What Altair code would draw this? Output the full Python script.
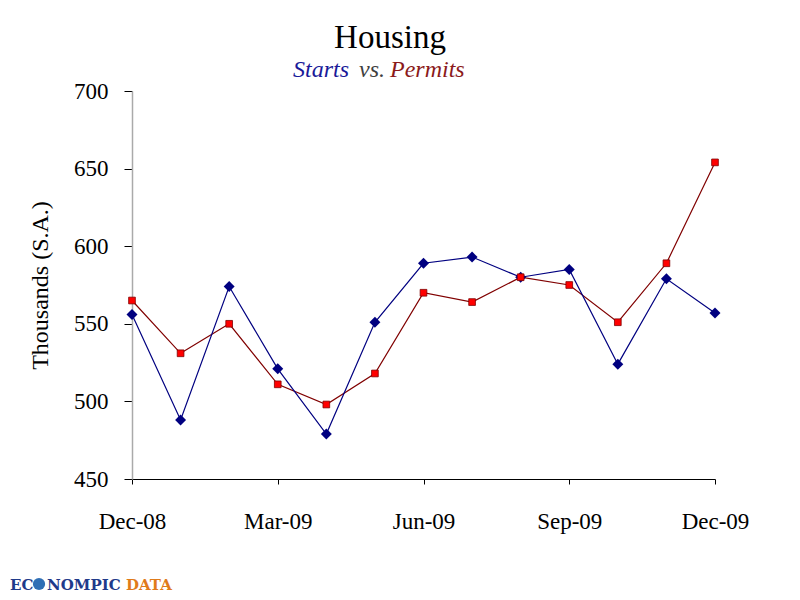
import altair as alt
import pandas as pd

months = ["Dec-08", "Jan-09", "Feb-09", "Mar-09", "Apr-09", "May-09", "Jun-09",
          "Jul-09", "Aug-09", "Sep-09", "Oct-09", "Nov-09", "Dec-09"]
starts = [556, 488, 574, 521, 479, 551, 589, 593, 580, 585, 524, 579, 557]
permits = [565, 531, 550, 511, 498, 518, 570, 564, 580, 575, 551, 589, 654]
x_ticks = ["Dec-08", "Mar-09", "Jun-09", "Sep-09", "Dec-09"]
y_ticks = [450, 500, 550, 600, 650, 700]

FONT = "Liberation Serif"

df = pd.DataFrame({"month": months, "Starts": starts, "Permits": permits})

x_enc = alt.X("month:O", sort=months,
              scale=alt.Scale(type="point", padding=0),
              axis=alt.Axis(values=x_ticks, title=None, labelAngle=0,
                            labelAlign="center", labelBaseline="top",
                            labelFont=FONT, labelFontSize=23, labelColor="black",
                            labelPadding=26, tickSize=5, tickColor="black",
                            domainColor="black", domainWidth=1, labelFlush=False))
y_scale = alt.Scale(domain=[450, 700], nice=False, zero=False)
y_axis = alt.Axis(values=y_ticks, title="Thousands (S.A.)", titleFont=FONT,
                  titleFontSize=24, titleFontWeight="normal", titleColor="black",
                  titlePadding=21, labelFont=FONT, labelFontSize=23,
                  labelColor="black", labelPadding=16, tickSize=8,
                  tickColor="black", domainColor="#aaaaaa", domainWidth=1.5,
                  grid=False)

base = alt.Chart(df)

starts_line = base.mark_line(color="#000080", strokeWidth=1.2).encode(
    x=x_enc, y=alt.Y("Starts:Q", scale=y_scale, axis=y_axis))
starts_pts = base.mark_point(shape="diamond", filled=True, color="#000080",
                             size=120, opacity=1).encode(
    x=alt.X("month:O", sort=months), y=alt.Y("Starts:Q", scale=y_scale))
permits_line = base.mark_line(color="#800000", strokeWidth=1.2).encode(
    x=alt.X("month:O", sort=months), y=alt.Y("Permits:Q", scale=y_scale))
permits_pts = base.mark_point(shape="square", filled=True, color="#ff0000",
                              stroke="#800000", strokeWidth=0.8, size=45,
                              opacity=1).encode(
    x=alt.X("month:O", sort=months), y=alt.Y("Permits:Q", scale=y_scale))

def label(text, x, y, size, color, style="normal", weight="normal", align="left",
          font=FONT):
    return alt.Chart(pd.DataFrame({"t": [text]})).mark_text(
        font=font, fontSize=size, color=color, fontStyle=style,
        fontWeight=weight, align=align, baseline="alphabetic").encode(
        text="t:N", x=alt.value(x), y=alt.value(y))

title = label("Housing", 258, -43, 33, "black", align="center")
sub1 = label("Starts", 161, -14, 24, "#1a1a99", style="italic")
sub2 = label("vs.", 227, -14, 24, "#404040", style="italic")
sub3 = label("Permits", 258, -14, 24, "#8b1a1a", style="italic")

logo1 = label("EC", -122, 499, 15, "#1f3a8a", weight="bold", font="DejaVu Serif")
logo_globe = alt.Chart(pd.DataFrame({"t": [0]})).mark_point(
    shape="circle", filled=True, color="#2f6fb5", size=150, opacity=1).encode(
    x=alt.value(-93), y=alt.value(493))
logo2 = label("NOMPIC", -85, 499, 15, "#1f3a8a", weight="bold", font="DejaVu Serif")
logo3 = label("DATA", -6, 499, 15, "#e07b1a", weight="bold", font="DejaVu Serif")

chart = alt.layer(
    permits_line, starts_line, starts_pts, permits_pts,
    title, sub1, sub2, sub3, logo1, logo_globe, logo2, logo3
).properties(
    width=583, height=388,
    padding={"left": 124, "top": 83, "right": 77, "bottom": 117},
    autosize=alt.AutoSizeParams(type="none"),
    background="white"
).configure_view(stroke=None)

chart.save("out.html", embed_options={"renderer": "svg", "actions": False})
